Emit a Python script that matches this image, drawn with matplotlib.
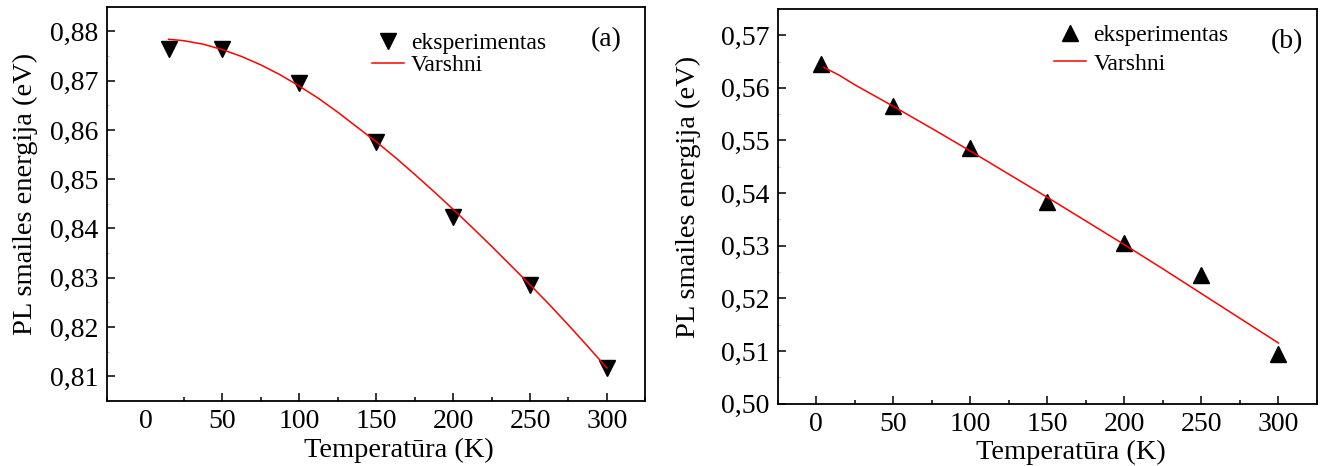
import numpy as np
import matplotlib
matplotlib.use('Agg')
import matplotlib.pyplot as plt
from matplotlib.ticker import MultipleLocator, FuncFormatter

plt.rcParams['font.family'] = ['Liberation Serif', 'DejaVu Serif']

# (a) eksperimentiniai taskai ir Varshni kreive
temp_a = [15, 50, 100, 150, 200, 250, 300]
energ_a = [0.8764, 0.8765, 0.8695, 0.8575, 0.8424, 0.8286, 0.8116]
fit_temp_a = [15, 25, 37.5, 50, 62.5, 75, 87.5, 100, 112.5, 125, 137.5, 150,
              162.5, 175, 187.5, 200, 212.5, 225, 237.5, 250, 262.5, 275,
              287.5, 300]
fit_energ_a = [0.8784, 0.8781, 0.8774, 0.8763, 0.8749, 0.8732, 0.8712, 0.8689,
               0.8664, 0.8636, 0.8606, 0.8576, 0.8544, 0.8510, 0.8475, 0.8439,
               0.8402, 0.8364, 0.8325, 0.8286, 0.8246, 0.8204, 0.8161, 0.8117]

# (b)
temp_b = [3, 50, 100, 150, 200, 250, 300]
energ_b = [0.5645, 0.5565, 0.5485, 0.5384, 0.5305, 0.5245, 0.5094]
fit_temp_b = [5, 15, 25, 50, 75, 100, 125, 150, 175, 200, 225, 250, 275, 300]
fit_energ_b = [0.5639, 0.5624, 0.5606, 0.5565, 0.5523, 0.5480, 0.5436, 0.5392,
               0.5347, 0.5302, 0.5256, 0.5209, 0.5162, 0.5115]

xticks = [0, 50, 100, 150, 200, 250, 300]


def kablelis(v, pos):
    return f'{v:.2f}'.replace('.', ',')


def pintar(ax, t, e, ft, fe, marker, ylim, raide, leg_xy, leg_tarpas,
           raide_xy, ylab_x):
    ax.plot(t, e, linestyle='none', marker=marker, color='black', ms=12,
            label='eksperimentas')
    ax.plot(ft, fe, color='red', lw=1.1, label='Varshni')
    ax.set_xlim(-25, 325)
    ax.set_ylim(*ylim)
    ax.set_xticks(xticks)
    ax.xaxis.set_minor_locator(MultipleLocator(25))
    ax.yaxis.set_major_locator(MultipleLocator(0.01))
    ax.yaxis.set_minor_locator(MultipleLocator(0.005))
    ax.yaxis.set_major_formatter(FuncFormatter(kablelis))
    ax.tick_params(which='major', direction='in', length=6, width=1.1,
                   labelsize=20, pad=6, top=False, right=False)
    ax.tick_params(axis='x', which='minor', direction='in', length=3, width=1.1)
    ax.tick_params(axis='y', which='minor', direction='in', length=1.5,
                   width=0.8, color='#8fe08f')
    for s in ax.spines.values():
        s.set_linewidth(1.3)
    ax.set_xlabel('Temperatūra (K)', fontsize=20.5)
    ax.set_ylabel('PL smailes energija (eV)', fontsize=20.5)
    ax.xaxis.set_label_coords(0.543, -0.093)
    ax.yaxis.set_label_coords(ylab_x, 0.524)
    ax.legend(loc='upper left', bbox_to_anchor=leg_xy, frameon=False,
              fontsize=17, handlelength=1.35, handletextpad=0.3,
              labelspacing=leg_tarpas, borderpad=0, borderaxespad=0)
    ax.text(raide_xy[0], raide_xy[1], raide, transform=ax.transAxes,
            fontsize=20, ha='center', va='center')


fig = plt.figure(figsize=(13.26, 4.66), dpi=100)
ax1 = fig.add_axes([0.0807, 0.1395, 0.4060, 0.8461])
ax2 = fig.add_axes([0.5865, 0.1341, 0.4067, 0.8466])

pintar(ax1, temp_a, energ_a, fit_temp_a, fit_energ_a, 'v', (0.805, 0.885),
       '(a)', (0.492, 0.934), 0.0, (0.928, 0.9155), -0.128)
pintar(ax2, temp_b, energ_b, fit_temp_b, fit_energ_b, '^', (0.50, 0.575),
       '(b)', (0.513, 0.96), 0.29, (0.945, 0.918), -0.142)

# kairiajame grafike ties 0 nera padalos
ax1.xaxis.get_major_ticks()[0].tick1line.set_visible(False)

fig.savefig('out.png', dpi=100)
